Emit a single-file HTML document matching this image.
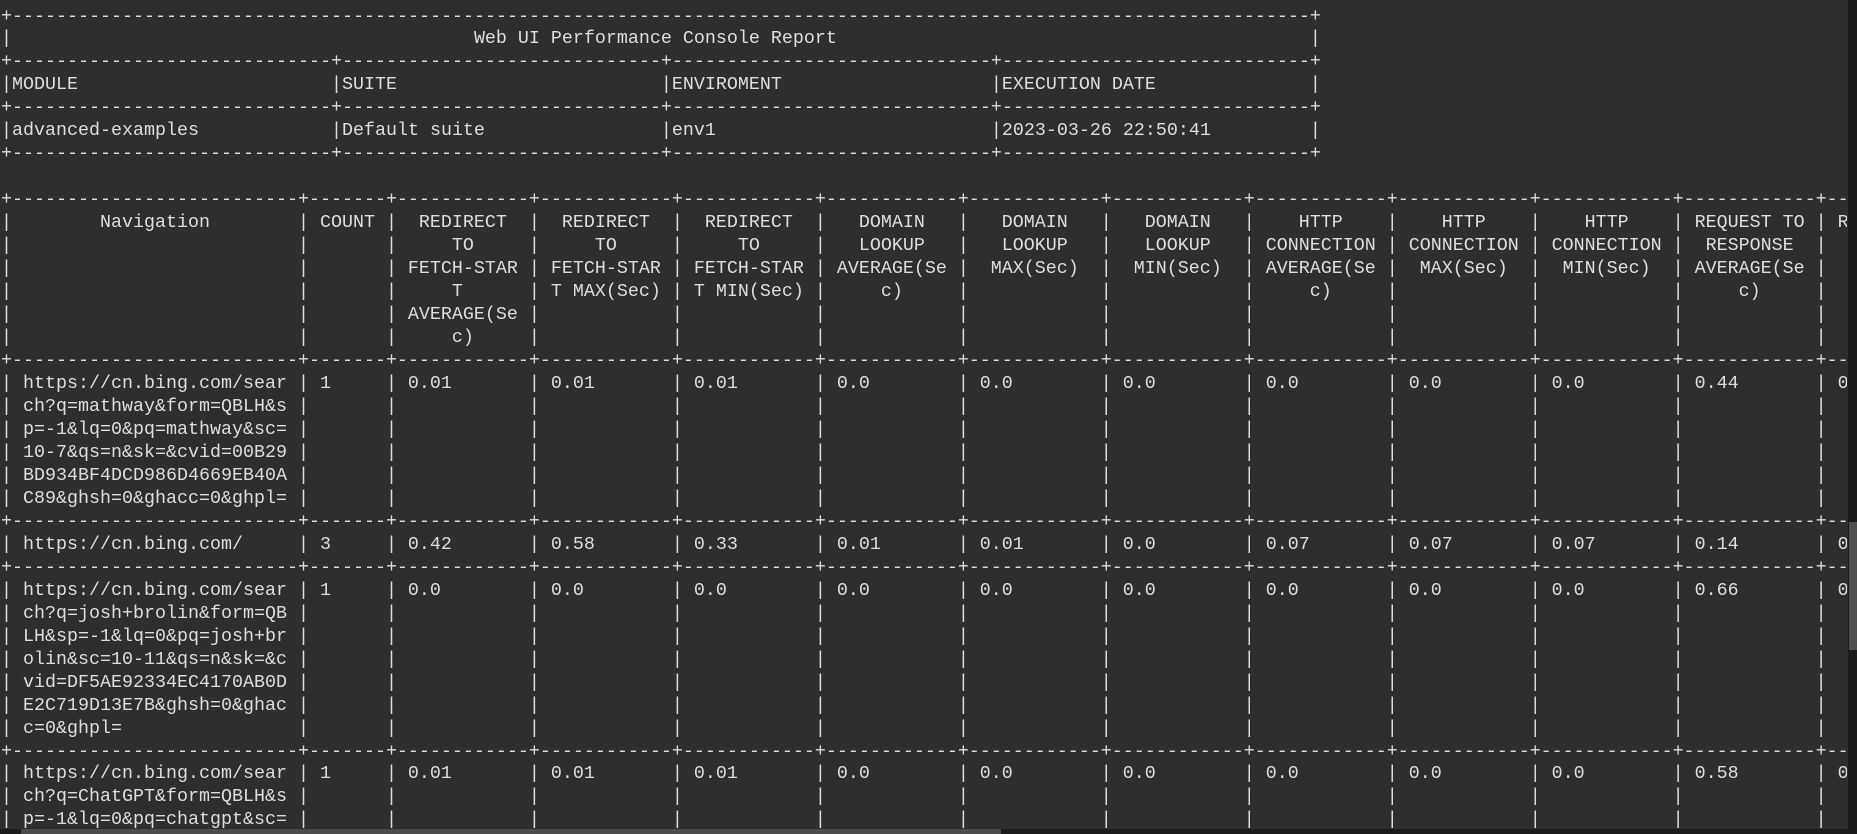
<!DOCTYPE html>
<html><head><meta charset="utf-8"><style>
html,body{margin:0;padding:0;}
body{width:1857px;height:834px;background:#2e2e2e;overflow:hidden;position:relative;}
#t{position:absolute;left:1px;top:5.5px;width:1846px;overflow:hidden;font-family:"Liberation Mono",monospace;font-size:18.33px;line-height:22.98px;color:#dedede;}
.r{height:22.98px;white-space:nowrap;}
.r span{display:inline-block;vertical-align:top;white-space:pre;overflow:hidden;height:22.98px;}
.w1{width:1ch}.w8{width:8ch}.w12{width:12ch}.w13{width:13ch}.w27{width:27ch}.w29{width:29ch}.w30{width:30ch}.w119{width:119ch}
#vs{position:absolute;left:1848px;top:0;width:9px;height:834px;background:#1b1b1b;}
#vt{position:absolute;left:1849px;top:522px;width:8px;height:128px;background:#4e4e4e;}
#hs{position:absolute;left:0;top:829px;width:1848px;height:5px;background:#1b1b1b;}
#ht{position:absolute;left:21px;top:829px;width:980px;height:5px;background:#4a4a4a;}
</style></head><body>
<div id="t">
<div class="r"><span class="w119">+----------------------------------------------------------------------------------------------------------------------------------</span><span class="w1">+</span></div>
<div class="r"><span class="w119">|<span style="margin-left:42ch">Web UI Performance Console Report</span></span><span class="w1">|</span></div>
<div class="r"><span class="w30">+------------------------------------</span><span class="w30">+------------------------------------</span><span class="w30">+------------------------------------</span><span class="w29">+------------------------------------</span><span class="w1">+</span></div>
<div class="r"><span class="w30">|MODULE</span><span class="w30">|SUITE</span><span class="w30">|ENVIROMENT</span><span class="w29">|EXECUTION DATE</span><span class="w1">|</span></div>
<div class="r"><span class="w30">+------------------------------------</span><span class="w30">+------------------------------------</span><span class="w30">+------------------------------------</span><span class="w29">+------------------------------------</span><span class="w1">+</span></div>
<div class="r"><span class="w30">|advanced-examples</span><span class="w30">|Default suite</span><span class="w30">|env1</span><span class="w29">|2023-03-26 22:50:41</span><span class="w1">|</span></div>
<div class="r"><span class="w30">+------------------------------------</span><span class="w30">+------------------------------------</span><span class="w30">+------------------------------------</span><span class="w29">+------------------------------------</span><span class="w1">+</span></div>
<div class="r"></div>
<div class="r"><span class="w27">+------------------------------</span><span class="w8">+----------</span><span class="w13">+--------------</span><span class="w13">+--------------</span><span class="w13">+--------------</span><span class="w13">+--------------</span><span class="w13">+--------------</span><span class="w13">+--------------</span><span class="w13">+--------------</span><span class="w13">+--------------</span><span class="w13">+--------------</span><span class="w13">+--------------</span><span class="w13">+--------------</span></div>
<div class="r"><span class="w27">|        Navigation</span><span class="w8">| COUNT</span><span class="w13">|  REDIRECT</span><span class="w13">|  REDIRECT</span><span class="w13">|  REDIRECT</span><span class="w13">|   DOMAIN</span><span class="w13">|   DOMAIN</span><span class="w13">|   DOMAIN</span><span class="w13">|    HTTP</span><span class="w13">|    HTTP</span><span class="w13">|    HTTP</span><span class="w13">| REQUEST TO</span><span class="w13">| REQUEST TO</span></div>
<div class="r"><span class="w27">|</span><span class="w8">|</span><span class="w13">|     TO</span><span class="w13">|     TO</span><span class="w13">|     TO</span><span class="w13">|   LOOKUP</span><span class="w13">|   LOOKUP</span><span class="w13">|   LOOKUP</span><span class="w13">| CONNECTION</span><span class="w13">| CONNECTION</span><span class="w13">| CONNECTION</span><span class="w13">|  RESPONSE</span><span class="w13">|  RESPONSE</span></div>
<div class="r"><span class="w27">|</span><span class="w8">|</span><span class="w13">| FETCH-STAR</span><span class="w13">| FETCH-STAR</span><span class="w13">| FETCH-STAR</span><span class="w13">| AVERAGE(Se</span><span class="w13">|  MAX(Sec)</span><span class="w13">|  MIN(Sec)</span><span class="w13">| AVERAGE(Se</span><span class="w13">|  MAX(Sec)</span><span class="w13">|  MIN(Sec)</span><span class="w13">| AVERAGE(Se</span><span class="w13">|  MAX(Sec)</span></div>
<div class="r"><span class="w27">|</span><span class="w8">|</span><span class="w13">|     T</span><span class="w13">| T MAX(Sec)</span><span class="w13">| T MIN(Sec)</span><span class="w13">|     c)</span><span class="w13">|</span><span class="w13">|</span><span class="w13">|     c)</span><span class="w13">|</span><span class="w13">|</span><span class="w13">|     c)</span><span class="w13">|</span></div>
<div class="r"><span class="w27">|</span><span class="w8">|</span><span class="w13">| AVERAGE(Se</span><span class="w13">|</span><span class="w13">|</span><span class="w13">|</span><span class="w13">|</span><span class="w13">|</span><span class="w13">|</span><span class="w13">|</span><span class="w13">|</span><span class="w13">|</span><span class="w13">|</span></div>
<div class="r"><span class="w27">|</span><span class="w8">|</span><span class="w13">|     c)</span><span class="w13">|</span><span class="w13">|</span><span class="w13">|</span><span class="w13">|</span><span class="w13">|</span><span class="w13">|</span><span class="w13">|</span><span class="w13">|</span><span class="w13">|</span><span class="w13">|</span></div>
<div class="r"><span class="w27">+------------------------------</span><span class="w8">+----------</span><span class="w13">+--------------</span><span class="w13">+--------------</span><span class="w13">+--------------</span><span class="w13">+--------------</span><span class="w13">+--------------</span><span class="w13">+--------------</span><span class="w13">+--------------</span><span class="w13">+--------------</span><span class="w13">+--------------</span><span class="w13">+--------------</span><span class="w13">+--------------</span></div>
<div class="r"><span class="w27">| https://cn.bing.com/sear</span><span class="w8">| 1</span><span class="w13">| 0.01</span><span class="w13">| 0.01</span><span class="w13">| 0.01</span><span class="w13">| 0.0</span><span class="w13">| 0.0</span><span class="w13">| 0.0</span><span class="w13">| 0.0</span><span class="w13">| 0.0</span><span class="w13">| 0.0</span><span class="w13">| 0.44</span><span class="w13">| 0.44</span></div>
<div class="r"><span class="w27">| ch?q=mathway&amp;form=QBLH&amp;s</span><span class="w8">|</span><span class="w13">|</span><span class="w13">|</span><span class="w13">|</span><span class="w13">|</span><span class="w13">|</span><span class="w13">|</span><span class="w13">|</span><span class="w13">|</span><span class="w13">|</span><span class="w13">|</span><span class="w13">|</span></div>
<div class="r"><span class="w27">| p=-1&amp;lq=0&amp;pq=mathway&amp;sc=</span><span class="w8">|</span><span class="w13">|</span><span class="w13">|</span><span class="w13">|</span><span class="w13">|</span><span class="w13">|</span><span class="w13">|</span><span class="w13">|</span><span class="w13">|</span><span class="w13">|</span><span class="w13">|</span><span class="w13">|</span></div>
<div class="r"><span class="w27">| 10-7&amp;qs=n&amp;sk=&amp;cvid=00B29</span><span class="w8">|</span><span class="w13">|</span><span class="w13">|</span><span class="w13">|</span><span class="w13">|</span><span class="w13">|</span><span class="w13">|</span><span class="w13">|</span><span class="w13">|</span><span class="w13">|</span><span class="w13">|</span><span class="w13">|</span></div>
<div class="r"><span class="w27">| BD934BF4DCD986D4669EB40A</span><span class="w8">|</span><span class="w13">|</span><span class="w13">|</span><span class="w13">|</span><span class="w13">|</span><span class="w13">|</span><span class="w13">|</span><span class="w13">|</span><span class="w13">|</span><span class="w13">|</span><span class="w13">|</span><span class="w13">|</span></div>
<div class="r"><span class="w27">| C89&amp;ghsh=0&amp;ghacc=0&amp;ghpl=</span><span class="w8">|</span><span class="w13">|</span><span class="w13">|</span><span class="w13">|</span><span class="w13">|</span><span class="w13">|</span><span class="w13">|</span><span class="w13">|</span><span class="w13">|</span><span class="w13">|</span><span class="w13">|</span><span class="w13">|</span></div>
<div class="r"><span class="w27">+------------------------------</span><span class="w8">+----------</span><span class="w13">+--------------</span><span class="w13">+--------------</span><span class="w13">+--------------</span><span class="w13">+--------------</span><span class="w13">+--------------</span><span class="w13">+--------------</span><span class="w13">+--------------</span><span class="w13">+--------------</span><span class="w13">+--------------</span><span class="w13">+--------------</span><span class="w13">+--------------</span></div>
<div class="r"><span class="w27">| https://cn.bing.com/</span><span class="w8">| 3</span><span class="w13">| 0.42</span><span class="w13">| 0.58</span><span class="w13">| 0.33</span><span class="w13">| 0.01</span><span class="w13">| 0.01</span><span class="w13">| 0.0</span><span class="w13">| 0.07</span><span class="w13">| 0.07</span><span class="w13">| 0.07</span><span class="w13">| 0.14</span><span class="w13">| 0.14</span></div>
<div class="r"><span class="w27">+------------------------------</span><span class="w8">+----------</span><span class="w13">+--------------</span><span class="w13">+--------------</span><span class="w13">+--------------</span><span class="w13">+--------------</span><span class="w13">+--------------</span><span class="w13">+--------------</span><span class="w13">+--------------</span><span class="w13">+--------------</span><span class="w13">+--------------</span><span class="w13">+--------------</span><span class="w13">+--------------</span></div>
<div class="r"><span class="w27">| https://cn.bing.com/sear</span><span class="w8">| 1</span><span class="w13">| 0.0</span><span class="w13">| 0.0</span><span class="w13">| 0.0</span><span class="w13">| 0.0</span><span class="w13">| 0.0</span><span class="w13">| 0.0</span><span class="w13">| 0.0</span><span class="w13">| 0.0</span><span class="w13">| 0.0</span><span class="w13">| 0.66</span><span class="w13">| 0.66</span></div>
<div class="r"><span class="w27">| ch?q=josh+brolin&amp;form=QB</span><span class="w8">|</span><span class="w13">|</span><span class="w13">|</span><span class="w13">|</span><span class="w13">|</span><span class="w13">|</span><span class="w13">|</span><span class="w13">|</span><span class="w13">|</span><span class="w13">|</span><span class="w13">|</span><span class="w13">|</span></div>
<div class="r"><span class="w27">| LH&amp;sp=-1&amp;lq=0&amp;pq=josh+br</span><span class="w8">|</span><span class="w13">|</span><span class="w13">|</span><span class="w13">|</span><span class="w13">|</span><span class="w13">|</span><span class="w13">|</span><span class="w13">|</span><span class="w13">|</span><span class="w13">|</span><span class="w13">|</span><span class="w13">|</span></div>
<div class="r"><span class="w27">| olin&amp;sc=10-11&amp;qs=n&amp;sk=&amp;c</span><span class="w8">|</span><span class="w13">|</span><span class="w13">|</span><span class="w13">|</span><span class="w13">|</span><span class="w13">|</span><span class="w13">|</span><span class="w13">|</span><span class="w13">|</span><span class="w13">|</span><span class="w13">|</span><span class="w13">|</span></div>
<div class="r"><span class="w27">| vid=DF5AE92334EC4170AB0D</span><span class="w8">|</span><span class="w13">|</span><span class="w13">|</span><span class="w13">|</span><span class="w13">|</span><span class="w13">|</span><span class="w13">|</span><span class="w13">|</span><span class="w13">|</span><span class="w13">|</span><span class="w13">|</span><span class="w13">|</span></div>
<div class="r"><span class="w27">| E2C719D13E7B&amp;ghsh=0&amp;ghac</span><span class="w8">|</span><span class="w13">|</span><span class="w13">|</span><span class="w13">|</span><span class="w13">|</span><span class="w13">|</span><span class="w13">|</span><span class="w13">|</span><span class="w13">|</span><span class="w13">|</span><span class="w13">|</span><span class="w13">|</span></div>
<div class="r"><span class="w27">| c=0&amp;ghpl=</span><span class="w8">|</span><span class="w13">|</span><span class="w13">|</span><span class="w13">|</span><span class="w13">|</span><span class="w13">|</span><span class="w13">|</span><span class="w13">|</span><span class="w13">|</span><span class="w13">|</span><span class="w13">|</span><span class="w13">|</span></div>
<div class="r"><span class="w27">+------------------------------</span><span class="w8">+----------</span><span class="w13">+--------------</span><span class="w13">+--------------</span><span class="w13">+--------------</span><span class="w13">+--------------</span><span class="w13">+--------------</span><span class="w13">+--------------</span><span class="w13">+--------------</span><span class="w13">+--------------</span><span class="w13">+--------------</span><span class="w13">+--------------</span><span class="w13">+--------------</span></div>
<div class="r"><span class="w27">| https://cn.bing.com/sear</span><span class="w8">| 1</span><span class="w13">| 0.01</span><span class="w13">| 0.01</span><span class="w13">| 0.01</span><span class="w13">| 0.0</span><span class="w13">| 0.0</span><span class="w13">| 0.0</span><span class="w13">| 0.0</span><span class="w13">| 0.0</span><span class="w13">| 0.0</span><span class="w13">| 0.58</span><span class="w13">| 0.58</span></div>
<div class="r"><span class="w27">| ch?q=ChatGPT&amp;form=QBLH&amp;s</span><span class="w8">|</span><span class="w13">|</span><span class="w13">|</span><span class="w13">|</span><span class="w13">|</span><span class="w13">|</span><span class="w13">|</span><span class="w13">|</span><span class="w13">|</span><span class="w13">|</span><span class="w13">|</span><span class="w13">|</span></div>
<div class="r"><span class="w27">| p=-1&amp;lq=0&amp;pq=chatgpt&amp;sc=</span><span class="w8">|</span><span class="w13">|</span><span class="w13">|</span><span class="w13">|</span><span class="w13">|</span><span class="w13">|</span><span class="w13">|</span><span class="w13">|</span><span class="w13">|</span><span class="w13">|</span><span class="w13">|</span><span class="w13">|</span></div>
</div>
<div id="vs"></div><div id="vt"></div>
<div id="hs"></div><div id="ht"></div>
</body></html>
